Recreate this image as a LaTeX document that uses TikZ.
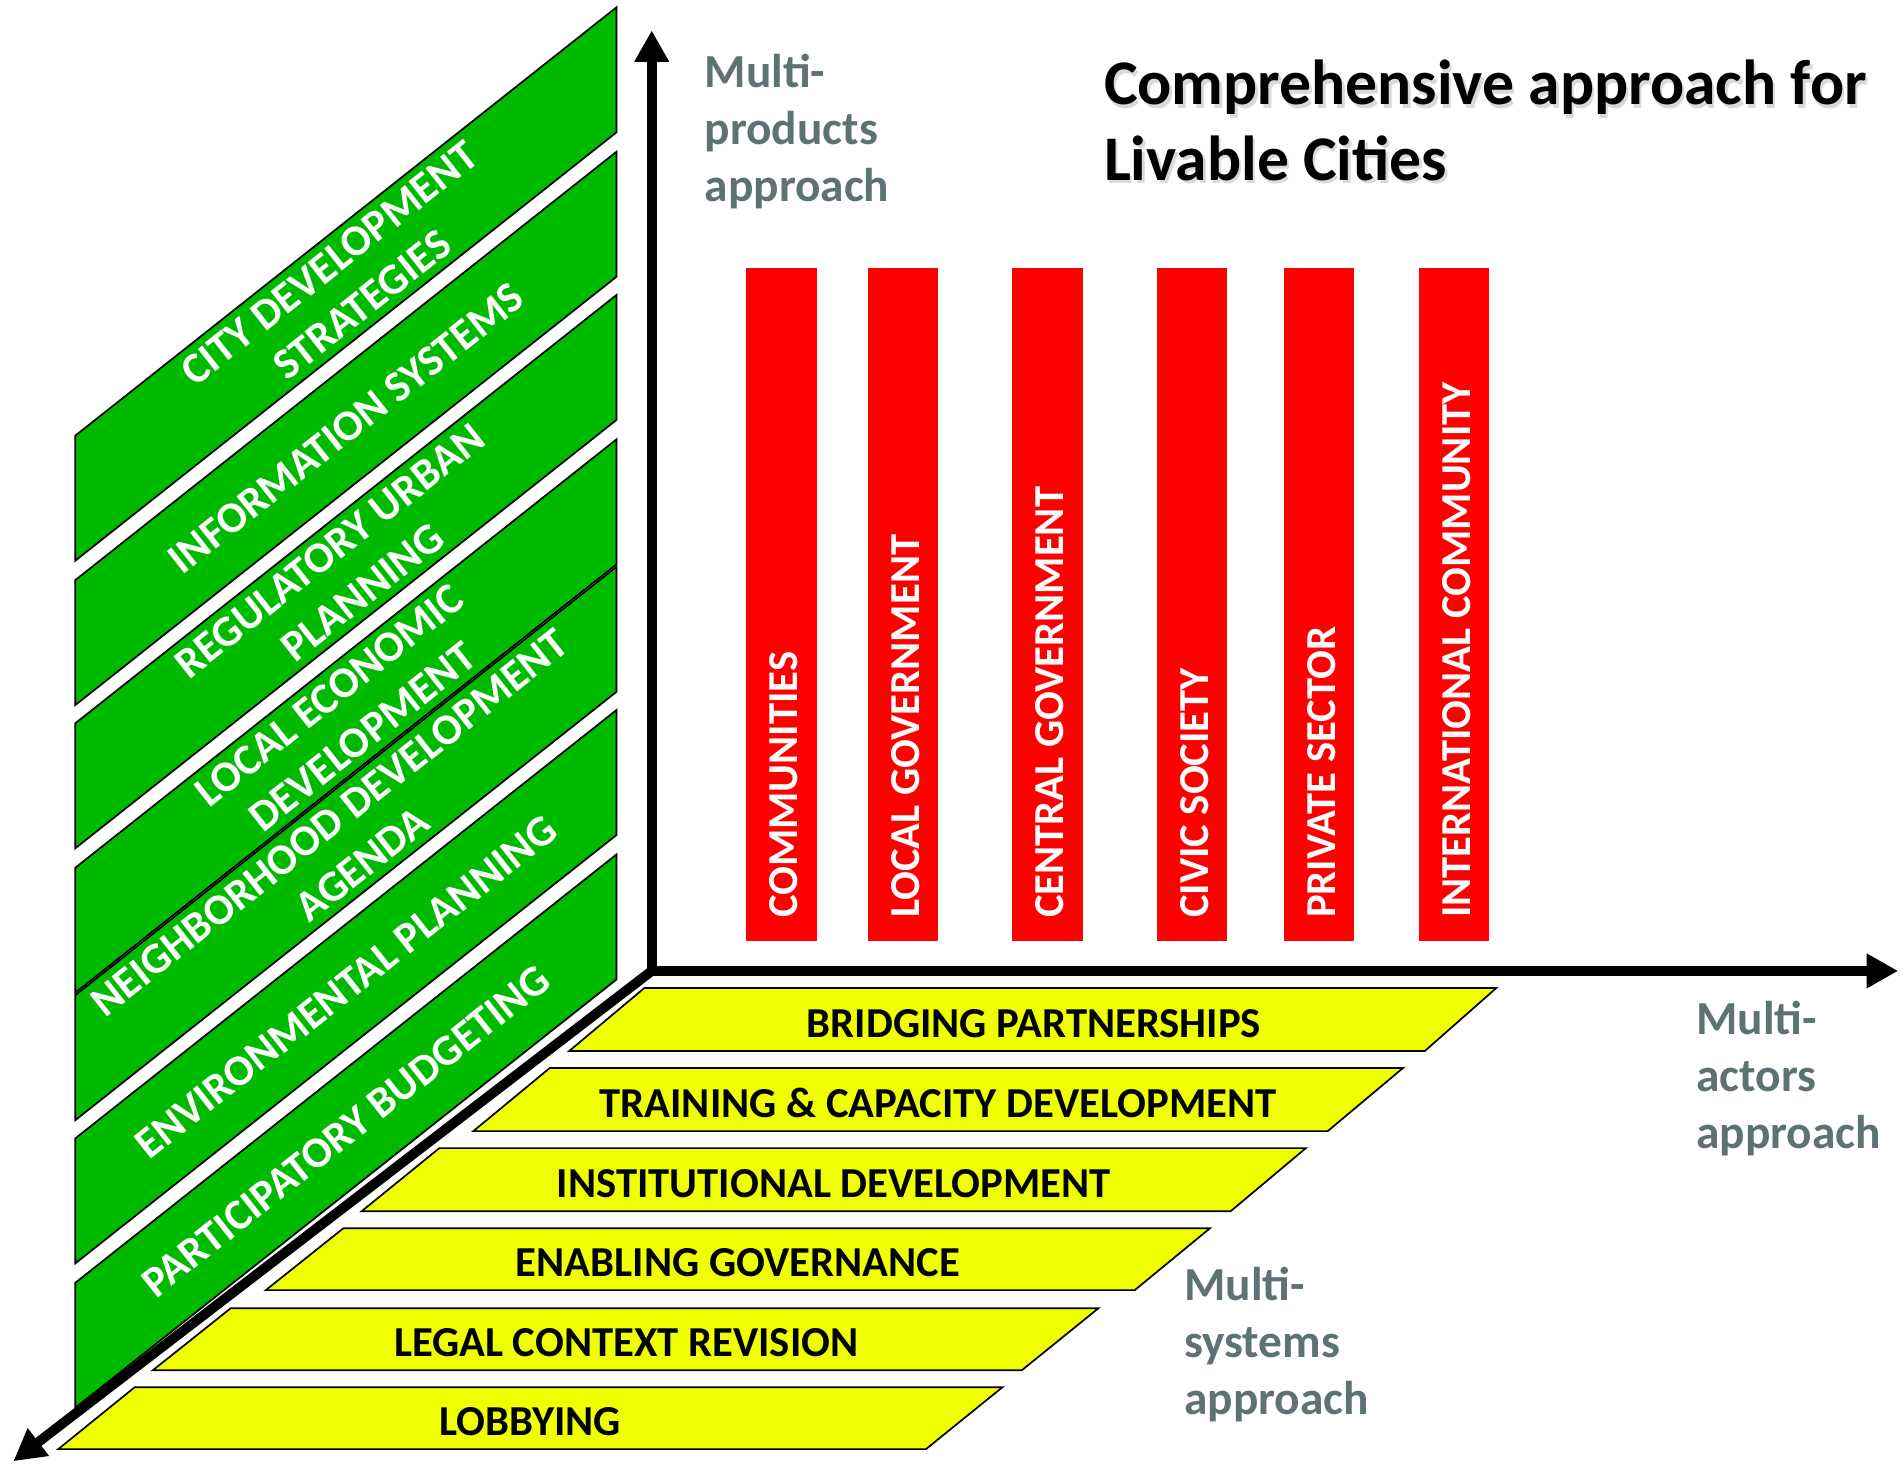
\documentclass[tikz,border=0pt]{standalone}
\usepackage{fontspec}
\setmainfont{Carlito}
\usetikzlibrary{arrows.meta}
\definecolor{barGreen}{RGB}{0,186,0}
\definecolor{barYellow}{RGB}{240,255,0}
\definecolor{barRed}{RGB}{255,0,0}
\definecolor{labelGray}{RGB}{95,114,115}
\newcommand{\leftX}{62}
\newcommand{\slantW}{446}
\newcommand{\slantH}{353}
\newcommand{\boxH}{103}
\newcommand{\redTop}{221}
\newcommand{\redBot}{775}
\newcommand{\redTxt}{757}

\begin{document}
\begin{tikzpicture}[x=0.01cm,y=-0.01cm,
    axis/.style={line width=2.3pt,line cap=round,-{Triangle[length=0.26cm,width=0.27cm]}},
    greenbox/.style={fill=barGreen,draw=black,line width=0.4pt},
    greentext/.style={text=white,font=\bfseries\fontsize{10.2}{12.4}\selectfont,align=center,rotate=38.36,inner sep=0pt},
    yellowbox/.style={fill=barYellow,draw=black,line width=0.4pt},
    yellowtext/.style={font=\bfseries\fontsize{10}{12}\selectfont,anchor=base,inner sep=0pt},
    redtext/.style={text=white,font=\bfseries\fontsize{10}{12}\selectfont,rotate=90,anchor=west,inner sep=0pt},
    graylabel/.style={text=labelGray,font=\bfseries\fontsize{11.1}{13.4}\selectfont,align=left,anchor=north west,inner sep=0pt},
    titletext/.style={anchor=north west,align=left,inner sep=0pt,font=\bfseries\fontsize{14.9}{17.6}\selectfont}]

        \useasboundingbox (0,0) rectangle (1568,1208);

        % Green boxes for the products, slanted up to the vertical axis
        \draw[greenbox] (\leftX,359) -- ++(\slantW,-\slantH) -- ++(0,\boxH) -- ++(-\slantW,\slantH) -- cycle;
        \draw[greenbox] (\leftX,478) -- ++(\slantW,-\slantH) -- ++(0,\boxH) -- ++(-\slantW,\slantH) -- cycle;
        \draw[greenbox] (\leftX,596) -- ++(\slantW,-\slantH) -- ++(0,\boxH) -- ++(-\slantW,\slantH) -- cycle;
        \draw[greenbox] (\leftX,715) -- ++(\slantW,-\slantH) -- ++(0,\boxH) -- ++(-\slantW,\slantH) -- cycle;
        \draw[greenbox] (\leftX,820) -- ++(\slantW,-\slantH) -- ++(0,\boxH) -- ++(-\slantW,\slantH) -- cycle;
        \draw[greenbox] (\leftX,938) -- ++(\slantW,-\slantH) -- ++(0,\boxH) -- ++(-\slantW,\slantH) -- cycle;
        \draw[greenbox] (\leftX,1057) -- ++(\slantW,-\slantH) -- ++(0,\boxH) -- ++(-\slantW,\slantH) -- cycle;

        \node[greentext] (cds) at (285,234) {CITY DEVELOPMENT\\STRATEGIES};
        \node[greentext] (infsys) at (285,353) {INFORMATION SYSTEMS};
        \node[greentext] (regplan) at (285,471) {REGULATORY URBAN\\PLANNING};
        \node[greentext] (led) at (285,590) {LOCAL ECONOMIC\\DEVELOPMENT};
        \node[greentext] (nda) at (285,695) {NEIGHBORHOOD DEVELOPMENT\\AGENDA};
        \node[greentext] (envplan) at (285,813) {ENVIRONMENTAL PLANNING};
        \node[greentext] (budget) at (285,932) {PARTICIPATORY BUDGETING};

        % Yellow boxes for the systems
        \draw[yellowbox] (531,814) -- (1233,814) -- (1174,866) -- (469,866) -- cycle;
        \draw[yellowbox] (453,880) -- (1156,880) -- (1094,932) -- (390,932) -- cycle;
        \draw[yellowbox] (362,946) -- (1076,946) -- (1014,998) -- (298,998) -- cycle;
        \draw[yellowbox] (283,1012) -- (997,1012) -- (935,1063) -- (219,1063) -- cycle;
        \draw[yellowbox] (190,1078) -- (905,1078) -- (842,1129) -- (126,1129) -- cycle;
        \draw[yellowbox] (111,1143) -- (826,1143) -- (763,1194) -- (48,1194) -- cycle;

        \node[yellowtext] (bridge) at (852,855) {BRIDGING PARTNERSHIPS};
        \node[yellowtext] (training) at (773,921) {TRAINING \& CAPACITY DEVELOPMENT};
        \node[yellowtext] (instdev) at (687,987) {INSTITUTIONAL DEVELOPMENT};
        \node[yellowtext] (enabling) at (608,1052) {ENABLING GOVERNANCE};
        \node[yellowtext] (legal) at (516,1118) {LEGAL CONTEXT REVISION};
        \node[yellowtext] (lobby) at (437,1183) {LOBBYING};

        % Red bars for the actors
        \fill[barRed] (615,\redTop) rectangle (673,\redBot);
        \fill[barRed] (715,\redTop) rectangle (773,\redBot);
        \fill[barRed] (834,\redTop) rectangle (892,\redBot);
        \fill[barRed] (953,\redTop) rectangle (1011,\redBot);
        \fill[barRed] (1058,\redTop) rectangle (1116,\redBot);
        \fill[barRed] (1169,\redTop) rectangle (1227,\redBot);

        \node[redtext] (comm) at (646,\redTxt) {COMMUNITIES};
        \node[redtext] (locgov) at (746,\redTxt) {LOCAL GOVERNMENT};
        \node[redtext] (cengov) at (865,\redTxt) {CENTRAL GOVERNMENT};
        \node[redtext] (civic) at (984,\redTxt) {CIVIC SOCIETY};
        \node[redtext] (private) at (1089,\redTxt) {PRIVATE SECTOR};
        \node[redtext] (intcomm) at (1200,\redTxt) {INTERNATIONAL COMMUNITY};

        % Draw the three axes
        \coordinate (origin) at (537,800);
        \coordinate (ytip) at (537,25);
        \coordinate (xtip) at (1564,800);
        \coordinate (ztip) at (11,1204);
        \draw[axis] (origin) -- (ytip);
        \draw[axis] (origin) -- (xtip);
        \draw[axis] (origin) -- (ztip);

        % Axis labels and title (with a faint shadow)
        \node[graylabel] (products) at (580,44) {Multi-\\products\\approach};
        \node[graylabel] (actors) at (1397,824) {Multi-\\actors\\approach};
        \node[graylabel] (systems) at (975,1043) {Multi-\\systems\\approach};
        \node[titletext,text=black!15] (titleshadow) at (911,52) {Comprehensive approach for\\Livable Cities};
        \node[titletext] (title) at (909,49) {Comprehensive approach for\\Livable Cities};
    \end{tikzpicture}
\end{document}
